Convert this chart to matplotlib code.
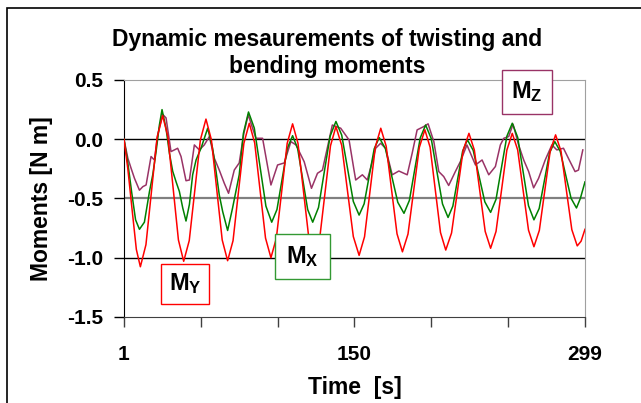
import matplotlib
matplotlib.use("Agg")
import matplotlib.pyplot as plt
from matplotlib.patches import Rectangle

plt.rcParams['font.family'] = ['Liberation Sans', 'DejaVu Sans']
plt.rcParams['mathtext.fontset'] = 'custom'
plt.rcParams['mathtext.bf'] = 'Liberation Sans:bold'
plt.rcParams['mathtext.rm'] = 'Liberation Sans'

# M_Y (red) readings
t_y = [1, 3.5, 6.3, 9, 11.6, 15.2, 18.8, 22.4, 26, 29.4, 32.8, 36.2, 39.6, 43.2, 46.8, 50.4,
       54, 57.5, 61, 64.5, 68, 71.5, 75, 78.5, 82, 85.5, 89, 92.5, 96, 99.5, 103, 106.5,
       110, 113.5, 117, 120.5, 124, 127.5, 131, 134.5, 138, 141.75, 145.5, 149.25, 153,
       156.5, 160, 163.5, 167, 170.5, 174, 177.5, 181, 184.6, 188.25, 191.9, 195.5, 198.9,
       202.25, 205.6, 209, 212.75, 216.5, 220.25, 224, 227.5, 231, 234.5, 238, 241.5, 245,
       248.5, 252, 255.5, 259, 262.5, 266, 269.5, 273, 276.5, 280, 283.5, 287, 290.5, 294,
       296.5, 299]
m_y = [0.0, -0.25, -0.6, -0.93, -1.076, -0.89, -0.438, 0.014, 0.2, 0.02, -0.415, -0.85,
       -1.03, -0.855, -0.43, -0.005, 0.17, -0.004, -0.428, -0.85, -1.025, -0.856, -0.445,
       -0.035, 0.135, -0.031, -0.433, -0.834, -1.0, -0.835, -0.435, -0.035, 0.13, -0.035,
       -0.435, -0.835, -1.0, -0.838, -0.447, -0.055, 0.107, -0.052, -0.437, -0.821, -0.98,
       -0.823, -0.443, -0.064, 0.093, -0.059, -0.429, -0.798, -0.95, -0.8, -0.435, -0.07,
       0.08, -0.068, -0.428, -0.787, -0.935, -0.791, -0.442, -0.094, 0.05, -0.092, -0.435,
       -0.778, -0.92, -0.778, -0.435, -0.092, 0.05, -0.09, -0.429, -0.767, -0.907, -0.769,
       -0.435, -0.101, 0.037, -0.1, -0.432, -0.763, -0.9, -0.86, -0.76]

# M_X (green) readings
t_x = [1, 3.5, 6, 8.5, 11, 14.2, 17.5, 19.6, 21.8, 23.9, 25.6, 28.2, 30.4, 32.5, 34.7, 36.8,
       39, 41.1, 43.3, 45.4, 47.6, 50.8, 55.1, 58.3, 60.5, 62.6, 64.8, 68, 71.2, 75.5, 78.2,
       81.5, 85.25, 89, 92.75, 96.5, 99.9, 103.25, 106.6, 110, 113.25, 116.5, 119.75, 123,
       126.75, 130.5, 134.25, 138, 141.75, 145.5, 149.25, 153, 156.25, 159.5, 162.75, 166,
       170, 174, 178, 182, 185.5, 189, 192.5, 196, 199.6, 203.25, 206.9, 210.5, 213.6,
       216.75, 219.9, 223, 226.75, 230.5, 234.25, 238, 241.5, 245, 248.5, 252, 255.5, 259,
       262.5, 266, 269.4, 272.75, 276.1, 279.5, 283, 286.5, 290, 293.5, 296, 299]
m_x = [0.0, -0.2, -0.45, -0.68, -0.76, -0.70, -0.44, -0.30, -0.10, 0.12, 0.25, 0.09, -0.12,
       -0.27, -0.36, -0.44, -0.58, -0.69, -0.55, -0.30, -0.175, -0.076, 0.093, -0.076, -0.27,
       -0.47, -0.61, -0.77, -0.58, -0.30, 0.05, 0.23, 0.094, -0.235, -0.564, -0.70, -0.593,
       -0.335, -0.077, 0.03, -0.077, -0.335, -0.593, -0.70, -0.576, -0.275, 0.026, 0.15,
       0.035, -0.245, -0.525, -0.64, -0.545, -0.313, -0.081, 0.014, -0.079, -0.306, -0.532,
       -0.625, -0.516, -0.252, 0.011, 0.12, 0.006, -0.27, -0.546, -0.66, -0.564, -0.332,
       -0.101, -0.005, -0.094, -0.311, -0.528, -0.617, -0.507, -0.241, 0.025, 0.135, 0.016,
       -0.273, -0.561, -0.68, -0.584, -0.35, -0.116, -0.02, -0.102, -0.3, -0.498, -0.58,
       -0.5, -0.36]

# M_Z (purple) readings
t_z = [1, 3.5, 5.6, 7.8, 11, 13.2, 15.3, 18.5, 20.7, 22.8, 26, 28.2, 31.4, 33.6, 35.7, 37.9,
       41.1, 43.3, 46.5, 49.7, 52.9, 56.2, 59.4, 62.6, 65.8, 68.6, 72.3, 75.5, 78.5, 81.3,
       86.3, 90.6, 96, 100.3, 104.6, 108.9, 112.2, 117.5, 122.2, 126.1, 129.3, 135.7, 141.1,
       146.5, 149.7, 150.8, 155.1, 158.3, 161.5, 163.7, 166.9, 170.1, 174.4, 178.7, 184.1,
       187.3, 190.5, 194.8, 197.6, 201.3, 204.5, 207.7, 210.9, 215.2, 218.4, 222.7, 228.2,
       232.5, 236.8, 241.1, 244.3, 246.5, 249.7, 252.5, 256.1, 259.4, 262.6, 265.8, 269,
       273.3, 277.6, 280.8, 285.1, 289.4, 292.6, 294.8, 297.6]
m_z = [0.0, -0.16, -0.245, -0.33, -0.43, -0.40, -0.386, -0.146, -0.175, 0.037, 0.21, 0.18,
       -0.104, -0.09, -0.076, -0.146, -0.35, -0.344, -0.048, -0.09, -0.048, 0.023, -0.16,
       -0.26, -0.37, -0.456, -0.26, -0.2, 0.05, 0.206, 0.008, 0.008, -0.386, -0.217, -0.2,
       -0.02, -0.048, -0.19, -0.414, -0.287, -0.26, 0.12, 0.093, -0.006, -0.26, -0.344, -0.30,
       -0.344, -0.19, -0.076, -0.034, -0.076, -0.30, -0.268, -0.30, -0.118, 0.079, 0.107, 0.13,
       -0.02, -0.273, -0.315, -0.39, -0.273, -0.19, -0.048, -0.217, -0.175, -0.30, -0.23,
       -0.048, 0.008, 0.023, 0.127, -0.048, -0.175, -0.273, -0.41, -0.33, -0.175, -0.048,
       -0.09, -0.076, -0.19, -0.273, -0.26, -0.09]

x_ticks = [1, 50.67, 100.33, 150, 199.67, 249.33, 299]
x_labels = ['1', '', '', '150', '', '', '299']
y_ticks = [-1.5, -1.0, -0.5, 0.0, 0.5]
y_labels = ['-1.5', '-1.0', '-0.5', '0.0', '0.5']

fig = plt.figure(figsize=(6.41, 4.03), dpi=100)
ax = fig.add_axes([0.1934, 0.2134, 0.7192, 0.5881])

# gridlines
ax.axhline(0.0, color='black', lw=1.0, zorder=1)
ax.axhline(-1.0, color='black', lw=1.0, zorder=1)
ax.axhline(-0.5, color='#808080', lw=1.6, zorder=1)

ax.plot(t_z, m_z, color='#993366', lw=1.1, zorder=3)
ax.plot(t_x, m_x, color='#008000', lw=1.1, zorder=4)
ax.plot(t_y, m_y, color='#ff0000', lw=1.1, zorder=5)

ax.set_xlim(1, 299)
ax.set_ylim(-1.5, 0.5)
ax.set_xticks(x_ticks)
ax.set_xticklabels(x_labels, fontsize=15, fontweight='bold')
ax.set_yticks(y_ticks)
ax.set_yticklabels(y_labels, fontsize=15, fontweight='bold')
ax.tick_params(axis='x', direction='out', length=7, width=1, pad=13, colors='#404040', labelcolor='black')
ax.tick_params(axis='y', direction='out', length=7, width=1, pad=8, colors='black', labelcolor='black')

ax.spines['left'].set_color('black')
ax.spines['bottom'].set_color('#404040')
ax.spines['top'].set_color('#a0a0a0')
ax.spines['right'].set_color('#a0a0a0')

ax.set_xlabel('Time  [s]', fontsize=16.5, fontweight='bold', labelpad=9)
ax.set_ylabel('Moments [N m]', fontsize=16.5, fontweight='bold', labelpad=10)

fig.text(0.51, 0.868, 'Dynamic mesaurements of twisting and\nbending moments',
         ha='center', va='center', fontsize=16.5, fontweight='bold', linespacing=1.2)

# label boxes
boxes = [(502, 70, 50, 44, '#993366', r'$\mathbf{M_Z}$'),
         (161, 264, 48, 40, '#ff0000', r'$\mathbf{M_Y}$'),
         (275, 234, 55, 45, '#339933', r'$\mathbf{M_X}$')]
for bx, by, bw, bh, col, lab in boxes:
    fig.patches.append(Rectangle((bx / 641, 1 - (by + bh) / 403), bw / 641, bh / 403,
                                 transform=fig.transFigure, facecolor='white',
                                 edgecolor=col, lw=1.0, zorder=10))
    fig.text((bx + bw / 2) / 641, 1 - (by + bh / 2) / 403, lab, ha='center', va='center',
             fontsize=17, zorder=11)

# outer frame (left and top edges visible)
fig.patches.append(Rectangle((7 / 641, -0.1), 1.2, 1 - 8 / 403 + 0.1,
                             transform=fig.transFigure, fill=False,
                             edgecolor='black', lw=1.2))

fig.savefig('out.png', dpi=100)
